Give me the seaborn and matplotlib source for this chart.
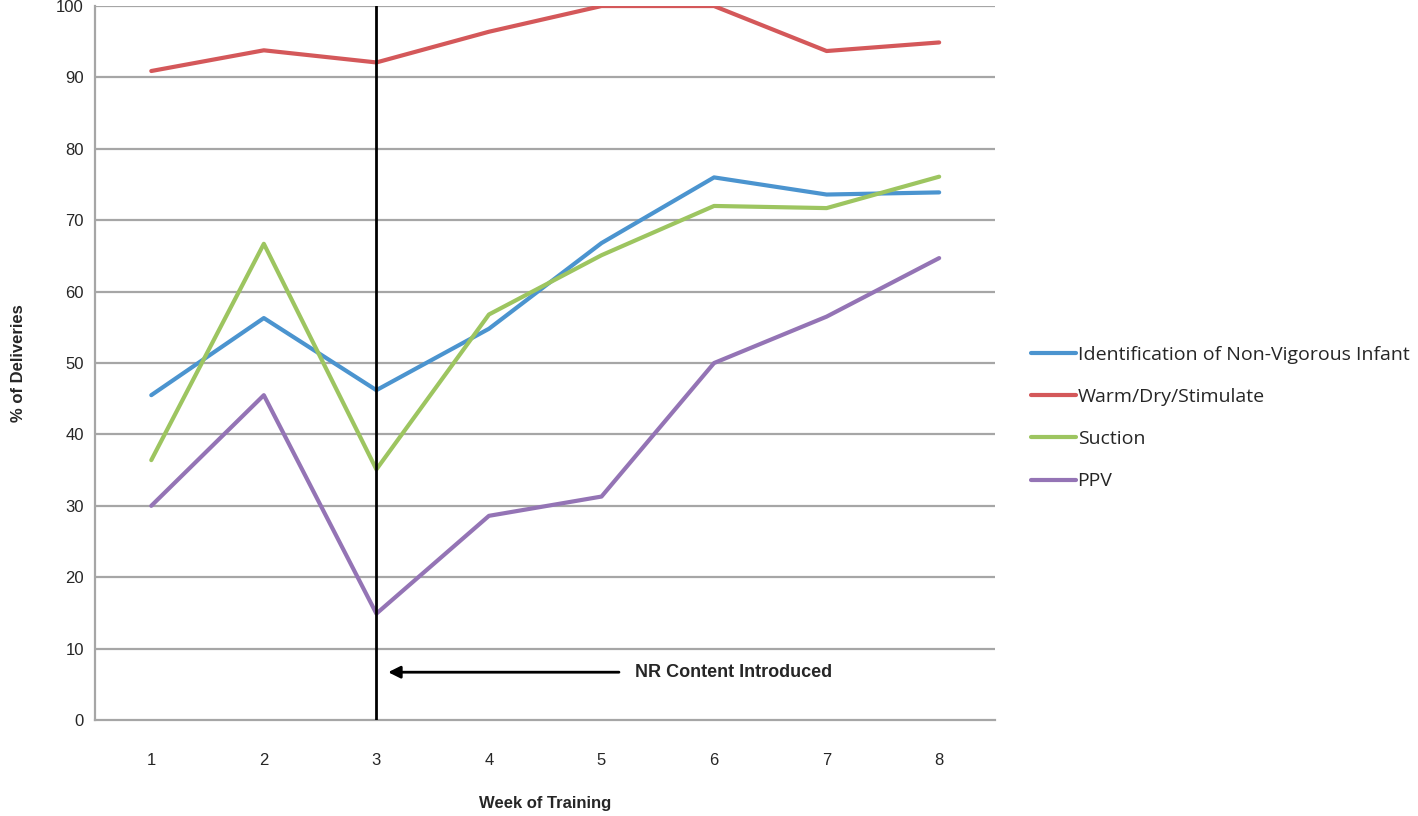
import pandas as pd
import numpy as np
import matplotlib
matplotlib.use("Agg")
import matplotlib.pyplot as plt
import seaborn as sns

# Data
weeks = [1, 2, 3, 4, 5, 6, 7, 8]
series_names = ["Identification of Non-Vigorous Infant", "Warm/Dry/Stimulate", "Suction", "PPV"]
ident = [45.5, 56.3, 46.2, 54.8, 66.8, 76.0, 73.6, 73.9]
warm = [90.9, 93.8, 92.1, 96.4, 100.0, 100.0, 93.7, 94.9]
suction = [36.4, 66.7, 35.1, 56.8, 65.1, 72.0, 71.7, 76.1]
ppv = [30.0, 45.5, 14.9, 28.6, 31.3, 50.0, 56.5, 64.7]
colors = ["#4b94cf", "#d4585a", "#9dc560", "#9474b5"]

rows = []
for name, vals in zip(series_names, [ident, warm, suction, ppv]):
    for i, (w, v) in enumerate(zip(weeks, vals)):
        rows.append({"pos": i, "week": w, "series": name, "value": v})
df = pd.DataFrame(rows)

sns.set_style("white")
plt.rcParams["font.family"] = ["Liberation Sans", "DejaVu Sans"]

fig = plt.figure(figsize=(14.18, 8.16), dpi=100)
ax = fig.add_axes([0.067, 0.1176, 0.635, 0.875])

# gridlines
for yv in range(10, 101, 10):
    ax.axhline(yv, color="#a6a6a6", lw=1.6, zorder=0)

sns.lineplot(data=df, x="pos", y="value", hue="series", hue_order=series_names,
             palette=colors, linewidth=3.0, ax=ax, legend=True, zorder=3)

ax.set_xlim(-0.5, 7.5)
ax.set_ylim(0, 100)
ax.set_xticks(range(len(weeks)))
ax.set_xticklabels([str(w) for w in weeks], fontsize=12)
ax.set_xticks(np.arange(-0.5, 8, 1), minor=True)
ax.tick_params(axis="x", which="major", length=0, pad=24)
ax.tick_params(axis="x", which="minor", length=7, color="#a6a6a6", width=1.2, direction="out")
ax.set_yticks(range(0, 101, 10))
ax.tick_params(axis="y", labelsize=12, length=0, pad=8)

for s in ["top", "right"]:
    ax.spines[s].set_visible(False)
ax.spines["left"].set_color("#a6a6a6")
ax.spines["left"].set_linewidth(1.6)
ax.spines["bottom"].set_color("#a6a6a6")
ax.spines["bottom"].set_linewidth(1.6)

ax.set_xlabel("Week of Training", fontsize=12, fontweight="bold", labelpad=20)
ax.set_ylabel("% of Deliveries", fontsize=12, fontweight="bold", labelpad=22)

# vertical marker at week 3
ax.axvline(2, color="black", lw=2, zorder=4)
ax.annotate("", xy=(2.08, 6.7), xytext=(4.18, 6.7),
            arrowprops=dict(arrowstyle="-|>", color="black", lw=2, mutation_scale=18))
ax.text(4.3, 6.7, "NR Content Introduced", fontsize=13, fontweight="bold", va="center", ha="left")

handles, labels = ax.get_legend_handles_labels()
leg = ax.legend(handles, labels, loc="center left", bbox_to_anchor=(1.02, 0.423),
                frameon=False, handlelength=2.3, handletextpad=0.1,
                labelspacing=1.25, prop={"family": ["Open Sans", "DejaVu Sans"], "size": 14})
for line in leg.get_lines():
    line.set_linewidth(3.0)

fig.savefig("out.png", dpi=100)
